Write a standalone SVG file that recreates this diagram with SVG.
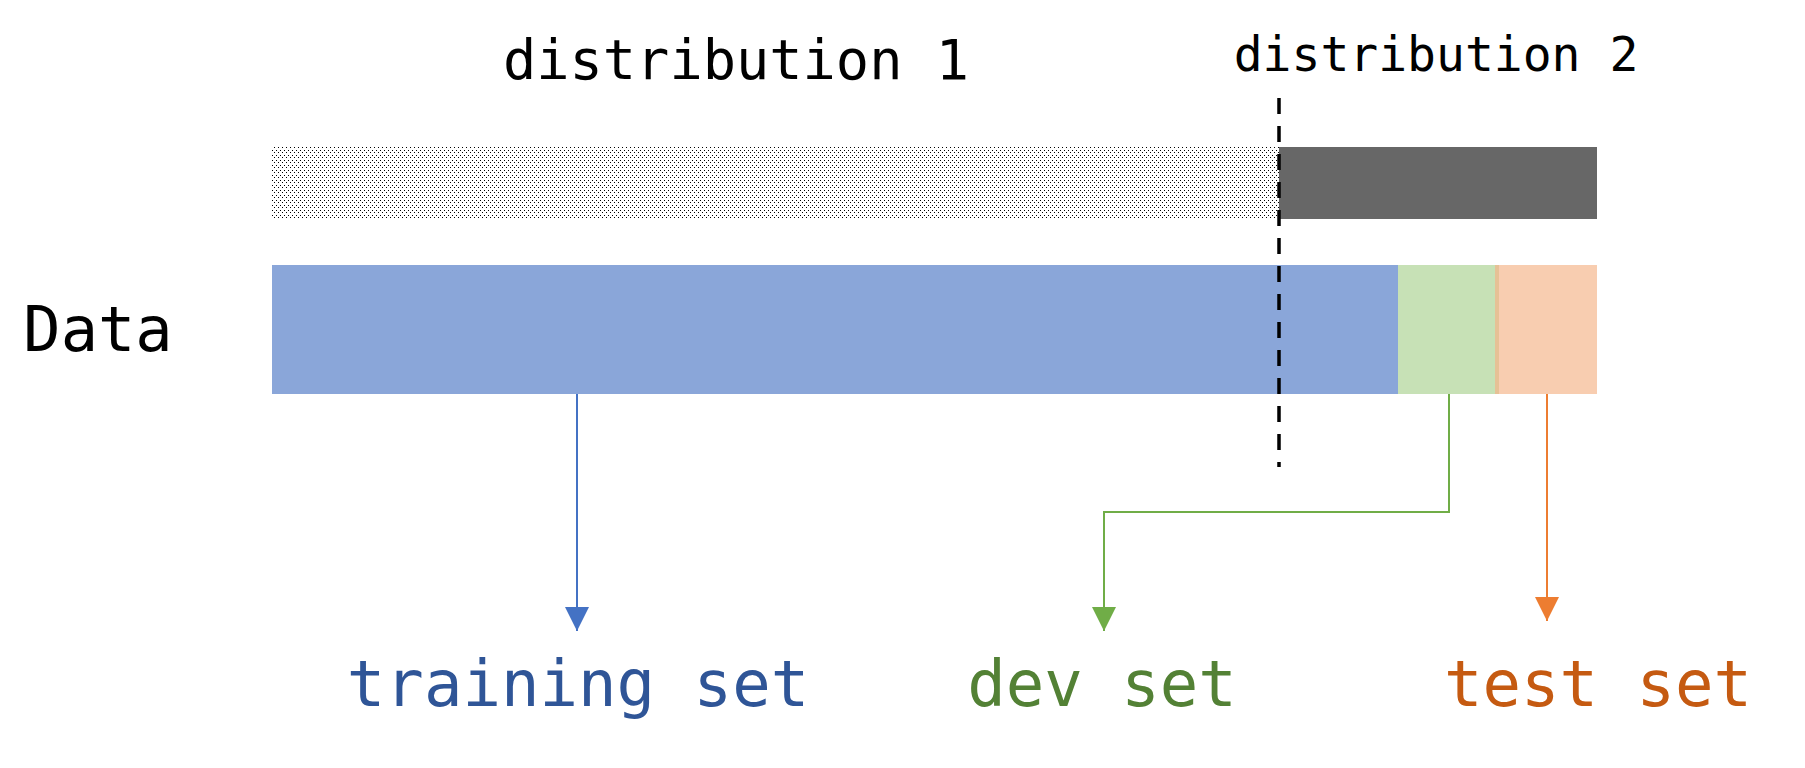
<svg xmlns="http://www.w3.org/2000/svg" width="1805" height="768" viewBox="0 0 1805 768">
<style>
text{font-family:"DejaVu Sans Mono","Liberation Mono",monospace;text-anchor:middle}
.lbl{fill:#000}
.c{fill:none;stroke-width:2}
</style>
<defs>
<pattern id="dots" width="4" height="5" patternUnits="userSpaceOnUse">
<rect width="4" height="5" fill="#fff"/>
<rect x="0" y="0" width="1" height="1" fill="#000"/>
<rect x="2" y="2" width="1" height="1" fill="#000"/>
</pattern>
<marker id="aB" markerWidth="24" markerHeight="24" refX="24" refY="12" orient="auto" markerUnits="userSpaceOnUse"><path d="M0,0 L24,12 L0,24 z" fill="#4472C4"/></marker>
<marker id="aG" markerWidth="24" markerHeight="24" refX="24" refY="12" orient="auto" markerUnits="userSpaceOnUse"><path d="M0,0 L24,12 L0,24 z" fill="#70AD47"/></marker>
<marker id="aO" markerWidth="24" markerHeight="24" refX="24" refY="12" orient="auto" markerUnits="userSpaceOnUse"><path d="M0,0 L24,12 L0,24 z" fill="#ED7D31"/></marker>
</defs>
<rect width="1805" height="768" fill="#fff"/>
<g id="dist1-bar"><rect x="272" y="147" width="1007" height="72" fill="url(#dots)"/></g>
<g id="dist2-bar"><rect x="1279" y="147" width="318" height="72" fill="#676767"/></g>
<g id="train-seg"><rect x="272" y="265" width="1126" height="129" fill="#8AA6D9"/></g>
<g id="dev-seg"><rect x="1398" y="265" width="97" height="129" fill="#C7E1B6"/></g>
<g id="test-seg"><rect x="1495" y="265" width="102" height="129" fill="#F8CDB0"/><rect x="1495" y="265" width="4" height="129" fill="#E6C196"/></g>
<g id="divider"><line x1="1279" y1="98" x2="1279" y2="467" stroke="#000" stroke-width="3.5" stroke-dasharray="16 12"/></g>
<g id="connectors">
<path class="c" d="M577,394 V631" stroke="#4472C4" marker-end="url(#aB)"/>
<path class="c" d="M1449,394 V512 H1104 V631" stroke="#70AD47" stroke-width="2.5" marker-end="url(#aG)"/>
<path class="c" d="M1547,394 V621" stroke="#ED7D31" marker-end="url(#aO)"/>
</g>
<g id="label-dist1"><text class="lbl" x="736" y="79" font-size="55.3">distribution 1</text></g>
<g id="label-dist2"><text class="lbl" x="1436" y="71" font-size="48">distribution 2</text></g>
<g id="label-data"><text class="lbl" x="98" y="351" font-size="62">Data</text></g>
<g id="label-train"><text x="578" y="706" font-size="64" fill="#2F5597">training set</text></g>
<g id="label-dev"><text x="1102" y="706" font-size="64" fill="#538135">dev set</text></g>
<g id="label-test"><text x="1598" y="706" font-size="64" fill="#C55A11">test set</text></g>
</svg>
